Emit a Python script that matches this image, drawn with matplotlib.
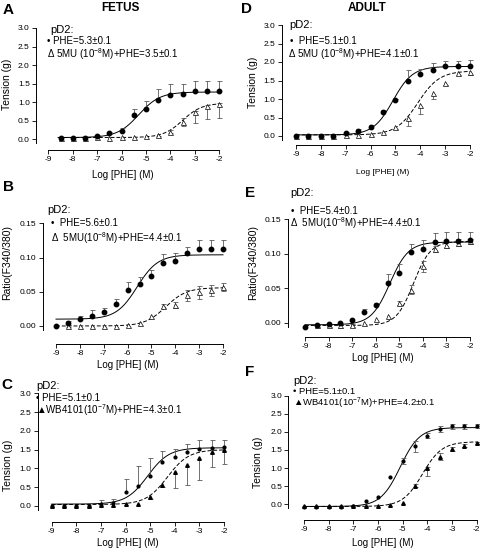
import numpy as np
import matplotlib
matplotlib.use("Agg")
import matplotlib.pyplot as plt

plt.rcParams['font.family'] = ['Liberation Sans', 'DejaVu Sans']
plt.rcParams['mathtext.fontset'] = 'custom'
plt.rcParams['mathtext.rm'] = 'Liberation Sans'
plt.rcParams['mathtext.default'] = 'regular'

# ---------------- data ----------------
x15 = [-9, -8.5, -8, -7.5, -7, -6.5, -6, -5.5, -5, -4.5, -4, -3.5, -3, -2.5, -2]
x14 = x15[1:]

# Panel A (fetus, tension)
A_phe = [0.03, 0.03, 0.04, 0.08, 0.15, 0.22, 0.64, 0.81, 1.06, 1.18, 1.22, 1.29, 1.29, 1.29]
A_phe_hi = [0, 0, 0, 0.02, 0.05, 0.08, 0.18, 0.22, 0.29, 0.31, 0.27, 0.28, 0.28, 0.28]
A_mu = [0.03, 0.03, 0.04, 0.05, 0.04, 0.05, 0.06, 0.07, 0.12, 0.2, 0.47, 0.72, 0.88, 0.95]
A_mu_lo = [0, 0, 0, 0, 0, 0, 0, 0, 0.03, 0.04, 0.12, 0.29, 0.33, 0.37]
A_mu_hi = [0, 0, 0, 0, 0, 0, 0, 0, 0, 0.04, 0.1, 0.05, 0.05, 0.03]

# Panel B (fetus, ratio)
B_phe = [0.0, 0.004, 0.01, 0.014, 0.02, 0.032, 0.052, 0.061, 0.073, 0.092, 0.095, 0.106, 0.112, 0.112, 0.112]
B_phe_hi = [0, 0.004, 0.004, 0.009, 0.007, 0.007, 0.012, 0.01, 0.009, 0.013, 0.012, 0.01, 0.013, 0.013, 0.013]
B_mu = [0.0, 0.0, 0.0, 0.0, 0.0, 0.001, 0.005, 0.015, 0.029, 0.031, 0.045, 0.049, 0.052, 0.057]
B_mu_err = [0.002, 0, 0, 0, 0, 0, 0, 0, 0.003, 0.004, 0.008, 0.009, 0.008, 0.006]

# Panel C (fetus, tension, WB4101)
C_phe = [0.0, 0.0, 0.0, 0.01, 0.04, 0.09, 0.37, 0.53, 0.8, 1.16, 1.31, 1.45, 1.51, 1.54, 1.56]
C_phe_hi = [0, 0, 0, 0, 0.12, 0.1, 0.34, 0.53, 0.47, 0.3, 0.22, 0.21, 0.26, 0.23, 0.21]
C_wb = [0.0, 0.0, 0.0, 0.0, 0.03, 0.03, 0.04, 0.06, 0.23, 0.55, 0.9, 1.1, 1.27, 1.45, 1.48]
C_wb_lo = [0, 0, 0, 0, 0, 0, 0, 0, 0.04, 0.04, 0.42, 0.55, 0.58, 0.4, 0.35]

# Panel D (adult, tension)
D_phe = [0.0, 0.0, 0.0, 0.0, 0.07, 0.14, 0.25, 0.66, 0.96, 1.49, 1.67, 1.78, 1.88, 1.9, 1.9]
D_phe_hi = [0, 0, 0, 0, 0.03, 0.05, 0.05, 0.03, 0.05, 0.3, 0.15, 0.2, 0.15, 0.14, 0.15]
D_mu = [0.0, 0.0, 0.0, 0.0, 0.04, 0.04, 0.06, 0.12, 0.23, 0.48, 0.85, 1.15, 1.42, 1.69, 1.72]
D_mu_lo = [0, 0, 0, 0, 0, 0, 0, 0, 0.04, 0.2, 0.25, 0.15, 0.05, 0.05, 0.08]

# Panel E (adult, ratio)
E_phe = [-0.006, -0.004, -0.002, 0.0, 0.004, 0.015, 0.025, 0.058, 0.072, 0.102, 0.107, 0.117, 0.118, 0.118, 0.12]
E_phe_hi = [0, 0, 0, 0, 0, 0.005, 0.004, 0.012, 0.013, 0.012, 0.013, 0.013, 0.013, 0.013, 0.012]
E_mu = [-0.004, -0.004, -0.004, -0.004, -0.001, 0.006, 0.01, 0.028, 0.048, 0.082, 0.107, 0.113, 0.116, 0.118]
E_mu_err = [0.002, 0.002, 0.003, 0.002, 0, 0, 0, 0.003, 0.006, 0.008, 0.004, 0.004, 0.005, 0.004]

# Panel F (adult, tension, WB4101)
F_phe = [-0.07, -0.07, -0.07, -0.07, -0.05, 0.09, 0.19, 0.75, 1.2, 1.6, 1.89, 2.08, 2.15, 2.15, 2.16]
F_phe_err = [0, 0, 0, 0, 0, 0, 0, 0, 0.08, 0.15, 0.07, 0.08, 0.06, 0.06, 0.06]
F_wb = [-0.06, -0.06, -0.06, -0.06, -0.06, -0.05, -0.05, -0.03, 0.03, 0.51, 1.0, 1.32, 1.53, 1.62, 1.7]
F_wb_lo = [0, 0, 0, 0, 0, 0, 0, 0, 0, 0.04, 0.23, 0.1, 0.05, 0.04, 0.03]
F_wb_hi = [0, 0, 0, 0, 0, 0, 0, 0, 0, 0.04, 0.03, 0.1, 0.05, 0.04, 0.03]

# sigmoid fit parameters: bottom, top, logEC50, hill
A_fit = [(0.04, 1.27, -5.3, 1.0), (0.04, 0.97, -3.5, 1.1)]
B_fit = [(0.01, 0.104, -5.6, 1.0), (0.0, 0.056, -4.4, 1.0)]
C_fit = [(0.05, 1.55, -5.1, 1.0), (0.04, 1.50, -4.3, 1.0)]
D_fit = [(0.03, 1.88, -5.1, 1.1), (0.03, 1.76, -4.1, 1.0)]
E_fit = [(-0.003, 0.117, -5.4, 1.1), (-0.004, 0.118, -4.4, 1.2)]
F_fit = [(-0.06, 2.12, -5.1, 1.1), (-0.06, 1.73, -4.2, 1.1)]

xticks = [-9, -8, -7, -6, -5, -4, -3, -2]
tension_ticks = [0.0, 0.5, 1.0, 1.5, 2.0, 2.5, 3.0]
ratio_ticks = [0.00, 0.05, 0.10, 0.15]

# ---------------- figure ----------------
W, H = 480, 549
fig = plt.figure(figsize=(W / 100, H / 100), dpi=100)


def hill(x, b, t, ec, h):
    return b + (t - b) / (1 + 10 ** ((ec - x) * h))


def panel(spine_x, xaxis_y, xm9, xm2, y0_px, y0_val, yt_px, yt_val, yticks, fmt):
    sx = (xm2 - xm9) / 7.0
    sy = (y0_px - yt_px) / (yt_val - y0_val)
    top_px = yt_px - 4
    right_px = xm2 + 5
    xl = -9 - (xm9 - spine_x) / sx
    xr = -2 + (right_px - xm2) / sx
    yb = y0_val - (xaxis_y - y0_px) / sy
    yt = yt_val + (yt_px - top_px) / sy
    ax = fig.add_axes([spine_x / W, 1 - xaxis_y / H, (right_px - spine_x) / W, (xaxis_y - top_px) / H])
    ax.set_xlim(xl, xr)
    ax.set_ylim(yb, yt)
    ax.patch.set_alpha(0)
    for s in ['top', 'right']:
        ax.spines[s].set_visible(False)
    ax.spines['left'].set_bounds(y0_val - 4 / sy, yt_val)
    ax.spines['bottom'].set_bounds(-9, -2)
    for s in ['left', 'bottom']:
        ax.spines[s].set_linewidth(0.7)
    ax.set_xticks(xticks)
    ax.set_xticklabels([str(v) for v in xticks])
    ax.set_yticks(yticks)
    ax.set_yticklabels([fmt.format(v) for v in yticks])
    ax.tick_params(direction='out', length=3, width=0.6, labelsize=6, pad=1.5)
    return ax


def err_bars(ax, x, y, lo=None, hi=None, col='0.35'):
    x = np.asarray(x, float)
    y = np.asarray(y, float)
    for arr, sign in [(lo, -1), (hi, 1)]:
        if arr is None:
            continue
        arr = np.asarray(arr, float)
        m = arr > 0
        if not m.any():
            continue
        ends = y[m] + sign * arr[m]
        ax.vlines(x[m], y[m], ends, colors=col, linewidth=0.6, clip_on=False)
        ax.plot(x[m], ends, ls='none', marker='_', ms=3.6, mew=0.6, color=col, clip_on=False)


def curves(ax, fits, x0):
    xs = np.linspace(x0, -2, 300)
    ax.plot(xs, hill(xs, *fits[0]), color='k', lw=0.7, clip_on=False)
    ax.plot(xs, hill(xs, *fits[1]), color='k', lw=0.7, ls=(0, (4, 2)), clip_on=False)


def pts(ax, x, y, kind):
    if kind == 'circle':
        ax.plot(x, y, ls='none', marker='o', ms=3.2, color='k', clip_on=False, zorder=5)
    elif kind == 'opentri':
        ax.plot(x, y, ls='none', marker='^', ms=3.6, mfc='white', mec='k', mew=0.5, clip_on=False, zorder=5)
    elif kind == 'dot':
        ax.plot(x, y, ls='none', marker='o', ms=2.0, color='k', clip_on=False, zorder=5)
    elif kind == 'tri':
        ax.plot(x, y, ls='none', marker='^', ms=2.6, color='k', clip_on=False, zorder=5)


def T(x, y, s, size=7, **kw):
    fig.text(x / W, 1 - y / H, s, fontsize=size, va='center', **kw)


# Panel A
axA = panel(36, 150, 48.3, 219.3, 139, 0.0, 28, 3.0, tension_ticks, '{:.1f}')
curves(axA, A_fit, -8.6)
err_bars(axA, x14, A_phe, hi=A_phe_hi)
err_bars(axA, x14, A_mu, lo=A_mu_lo, hi=A_mu_hi)
pts(axA, x14, A_mu, 'opentri')
pts(axA, x14, A_phe, 'circle')

# Panel B
axB = panel(43, 344, 56, 223, 326, 0.0, 223.3, 0.15, ratio_ticks, '{:.2f}')
curves(axB, B_fit, -9)
err_bars(axB, x15, B_phe, hi=B_phe_hi)
err_bars(axB, x14, B_mu, lo=B_mu_err, hi=B_mu_err)
pts(axB, x14, B_mu, 'opentri')
pts(axB, x15, B_phe, 'circle')

# Panel C
axC = panel(37.7, 521.7, 51.7, 224, 506, 0.0, 393.3, 3.0, tension_ticks, '{:.1f}')
curves(axC, C_fit, -9)
err_bars(axC, x15, C_phe, hi=C_phe_hi)
err_bars(axC, x15, C_wb, lo=C_wb_lo)
pts(axC, x15, C_wb, 'tri')
pts(axC, x15, C_phe, 'dot')

# Panel D
axD = panel(281.5, 145, 296, 470, 136, 0.0, 25, 3.0, tension_ticks, '{:.1f}')
curves(axD, D_fit, -9)
err_bars(axD, x15, D_phe, hi=D_phe_hi)
err_bars(axD, x15, D_mu, lo=D_mu_lo)
pts(axD, x15, D_mu, 'opentri')
pts(axD, x15, D_phe, 'circle')

# Panel E
axE = panel(287.7, 337, 305, 470, 322.7, 0.0, 219.3, 0.15, ratio_ticks, '{:.2f}')
curves(axE, E_fit, -9)
err_bars(axE, x15, E_phe, hi=E_phe_hi)
err_bars(axE, x14, E_mu, lo=E_mu_err, hi=E_mu_err)
pts(axE, x14, E_mu, 'opentri')
pts(axE, x15, E_phe, 'circle')

# Panel F
axF = panel(288.3, 520, 304, 476.7, 504.3, 0.0, 395.7, 3.0, tension_ticks, '{:.1f}')
curves(axF, F_fit, -9)
err_bars(axF, x15, F_phe, lo=F_phe_err, hi=F_phe_err)
err_bars(axF, x15, F_wb, lo=F_wb_lo, hi=F_wb_hi)
pts(axF, x15, F_wb, 'tri')
pts(axF, x15, F_phe, 'dot')

# axis labels
T(7, 84, 'Tension (g)', 7.5, rotation=90, ha='center')
T(7, 262, 'Ratio(F340/380)', 7.5, rotation=90, ha='center')
T(8, 465, 'Tension (g)', 7.5, rotation=90, ha='center')
T(253, 82, 'Tension (g)', 7.5, rotation=90, ha='center')
T(253, 262, 'Ratio(F340/380)', 7.5, rotation=90, ha='center')
T(258, 462, 'Tension (g)', 7.5, rotation=90, ha='center')

T(123, 175, 'Log [PHE] (M)', 7, ha='center')
T(128, 365, 'Log [PHE] (M)', 7, ha='center')
T(128, 543, 'Log [PHE] (M)', 7, ha='center')
T(383, 173, 'Log [PHE] (M)', 6, ha='center')
T(383, 358, 'Log [PHE] (M)', 7, ha='center')
T(383, 543, 'Log [PHE] (M)', 7, ha='center')

# panel letters & titles
for (x, y, s) in [(8, 10, 'A'), (8, 187, 'B'), (7, 385, 'C'), (247, 9, 'D'), (250, 193, 'E'), (250, 372, 'F')]:
    T(x, y, s, 11, ha='center', fontweight='bold')
T(120, 8, 'FETUS', 8.5, ha='center', fontweight='bold')
T(367, 8, 'ADULT', 8.5, ha='center', fontweight='bold')

# legends
T(50, 30, 'pD2:', 8)
T(47, 41, '• PHE=5.3±0.1', 7)
T(47, 54, 'Δ 5MU (10$^{-8}$M)+PHE=3.5±0.1', 7)

T(47, 210, 'pD2:', 8)
T(51, 223, '•  PHE=5.6±0.1', 7)
T(51, 238, 'Δ  5MU(10$^{-8}$M)+PHE=4.4±0.1', 7)

T(36, 386, 'pD2:', 8)
T(36, 398, '• PHE=5.1±0.1', 7)
T(36, 410, '▲WB4101(10$^{-7}$M)+PHE=4.3±0.1', 7)

T(289, 25, 'pD2:', 8)
T(290, 41, '•  PHE=5.1±0.1', 7)
T(288, 54, 'Δ 5MU (10$^{-8}$M)+PHE=4.1±0.1', 7)

T(290, 193, 'pD2:', 8)
T(291, 211, '•  PHE=5.4±0.1', 7)
T(290, 223, 'Δ  5MU(10$^{-8}$M)+PHE=4.4±0.1', 7)

T(293, 381, 'pD2:', 8)
T(293, 392, '• PHE=5.1±0.1', 6.8)
T(293, 403, '▲WB4101(10$^{-7}$M)+PHE=4.2±0.1', 6.8)

fig.savefig('out.png', dpi=100)
